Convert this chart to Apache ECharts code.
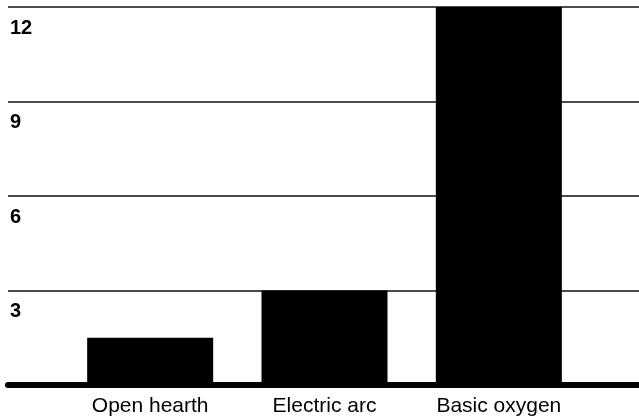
<!DOCTYPE html>
<html>
<head>
<meta charset="utf-8">
<script src="https://cdn.jsdelivr.net/npm/echarts@6/dist/echarts.min.js"></script>
<style>html,body{margin:0;padding:0;background:#fff}#c{width:639px;height:420px}</style>
</head>
<body>
<div id="c"></div>
<script>
var categories = ['Open hearth', 'Electric arc', 'Basic oxygen'];
var values = [1.5, 3.0, 12.0];
var yMin = 0, yMax = 12, yStep = 3;

var chart = echarts.init(document.getElementById('c'), null, {renderer: 'canvas'});
chart.setOption({
  backgroundColor: '#ffffff',
  animation: false,
  grid: [
    {left: 8, right: 0, top: 7, bottom: 35},
    {left: 63, right: 53, top: 7, bottom: 35}
  ],
  xAxis: [
    {gridIndex: 0, type: 'value', min: 0, max: 1,
     axisLine: {show: true, lineStyle: {color: '#000', width: 6}},
     axisTick: {show: false}, axisLabel: {show: false}, splitLine: {show: false}},
    {gridIndex: 1, type: 'category', data: categories,
     axisLine: {show: false}, axisTick: {show: false},
     axisLabel: {color: '#000', fontSize: 21, fontFamily: 'Liberation Sans, Arial, sans-serif', margin: 11}}
  ],
  yAxis: [
    {gridIndex: 0, type: 'value', min: yMin, max: yMax, interval: yStep,
     axisLine: {show: false}, axisTick: {show: false},
     splitLine: {show: true, lineStyle: {color: '#111', width: 1.5}},
     axisLabel: {inside: true, verticalAlign: 'top', margin: 2, padding: [11, 0, 0, 0],
       color: '#000', fontSize: 20, fontWeight: 'bold', fontFamily: 'Liberation Sans, Arial, sans-serif',
       formatter: function (v) { return v === 0 ? '' : String(v); }}},
    {gridIndex: 1, type: 'value', min: yMin, max: yMax, interval: yStep, show: false,
     splitLine: {show: false}}
  ],
  series: [{
    type: 'bar', xAxisIndex: 1, yAxisIndex: 1, data: values,
    barWidth: 126, itemStyle: {color: '#000'}, z: 3
  }]
});
</script>
</body>
</html>
